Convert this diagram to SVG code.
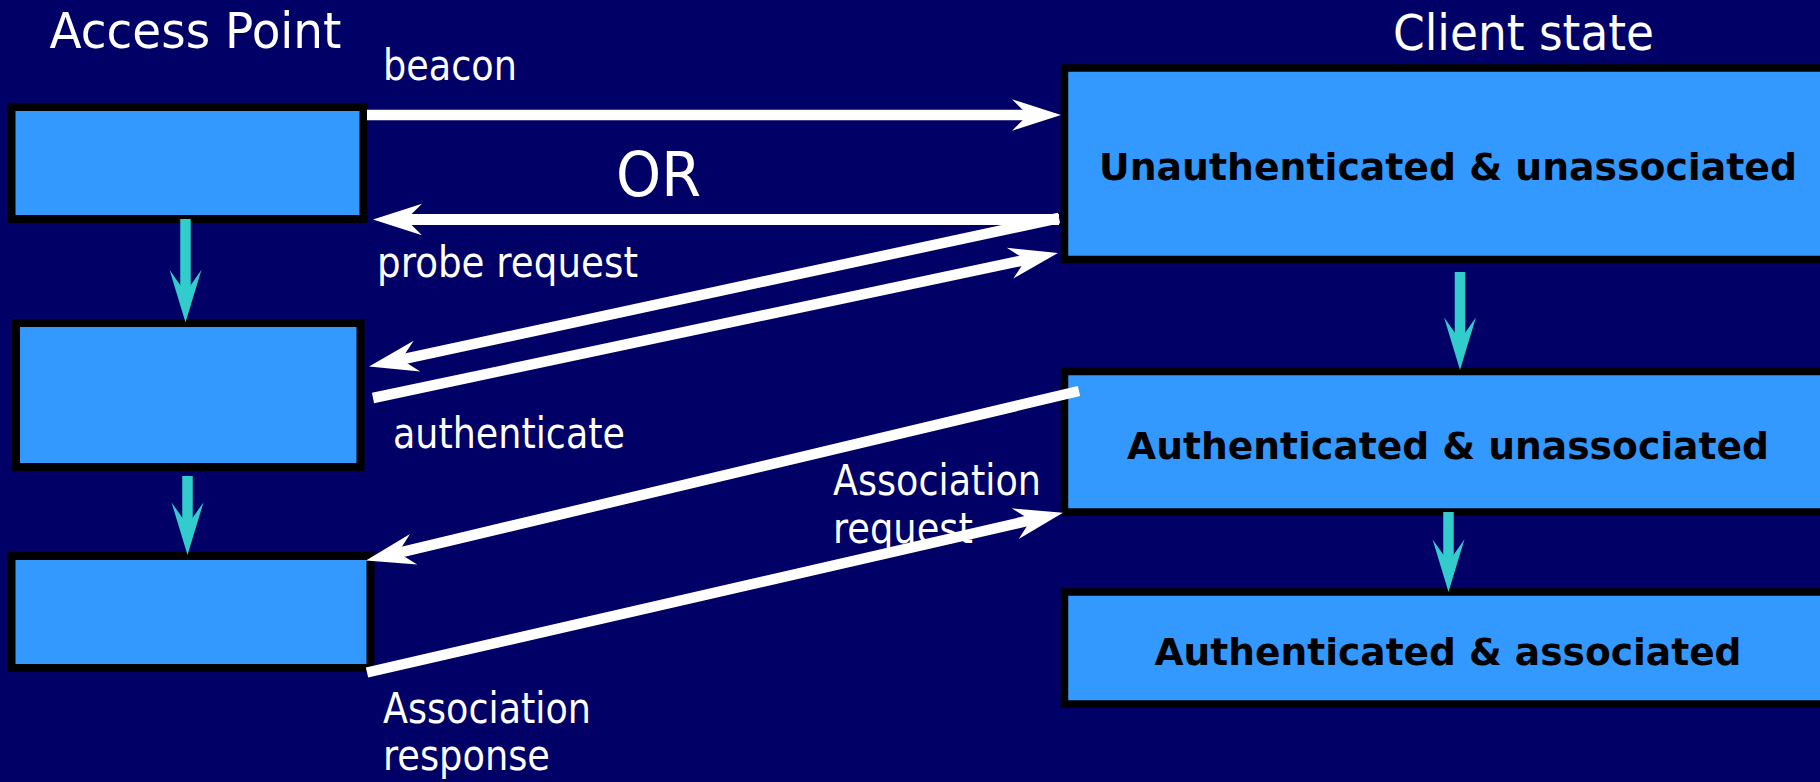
<svg xmlns="http://www.w3.org/2000/svg" width="1820" height="782" viewBox="0 0 1820 782">
  <style>
    .box { fill: #3399FF; stroke: #000000; stroke-width: 8; }
    .state { fill: #3399FF; stroke: #000000; stroke-width: 7.5; }
    .head { font-family: "DejaVu Sans", "Liberation Sans", sans-serif; font-size: 50px; fill: #FFFFFF; }
    .lbl { font-family: "DejaVu Sans", "Liberation Sans", sans-serif; font-size: 43px; fill: #FFFFFF; }
    .big { font-size: 63px; }
    .st { font-family: "DejaVu Sans", "Liberation Sans", sans-serif; font-size: 38px; font-weight: bold; fill: #000000; text-anchor: middle; }
    .msg { fill: none; stroke: #FFFFFF; stroke-width: 10.5; stroke-linecap: butt; marker-end: url(#wh); }
    .step { fill: none; stroke: #33CCCC; stroke-width: 10.5; stroke-linecap: butt; marker-end: url(#cy); }
  </style>
  <defs>
    <marker id="wh" markerUnits="userSpaceOnUse" orient="auto" markerWidth="60" markerHeight="40" refX="20" refY="0" overflow="visible">
      <path d="M0,-15.7 L49,0 L0,15.7 L16,0 Z" fill="#FFFFFF"/>
    </marker>
    <marker id="cy" markerUnits="userSpaceOnUse" orient="auto" markerWidth="60" markerHeight="40" refX="26.7" refY="0" overflow="visible">
      <path d="M0,-16 L52.7,0 L0,16 L22.7,0 Z" fill="#33CCCC"/>
    </marker>
  </defs>

  <rect x="0" y="0" width="1820" height="782" fill="#000066"/>

  <!-- column headings -->
  <text class="head" x="49.5" y="48" textLength="292" lengthAdjust="spacingAndGlyphs">Access Point</text>
  <text class="head" x="1393" y="50" textLength="261" lengthAdjust="spacingAndGlyphs">Client state</text>

  <!-- access point steps -->
  <g id="ap-step-1"><rect class="box" x="11.5" y="107" width="352" height="112"/></g>
  <g id="ap-step-2"><rect class="box" x="16" y="323" width="344.5" height="144"/></g>
  <g id="ap-step-3"><rect class="box" x="11.5" y="556" width="359" height="112"/></g>

  <!-- client states (run off the right edge) -->
  <g id="state-unauth-unassoc">
    <rect class="state" x="1064.5" y="68" width="768" height="191.5"/>
    <text class="st" x="1448" y="180" textLength="698" lengthAdjust="spacingAndGlyphs">Unauthenticated &amp; unassociated</text>
  </g>
  <g id="state-auth-unassoc">
    <rect class="state" x="1064.5" y="371.5" width="768" height="140.5"/>
    <text class="st" x="1448" y="459" textLength="642" lengthAdjust="spacingAndGlyphs">Authenticated &amp; unassociated</text>
  </g>
  <g id="state-auth-assoc">
    <rect class="state" x="1064.5" y="592" width="768" height="112"/>
    <text class="st" x="1448" y="665" textLength="587" lengthAdjust="spacingAndGlyphs">Authenticated &amp; associated</text>
  </g>

  <!-- message labels -->
  <g id="labels">
    <text class="lbl" x="383" y="80" textLength="134" lengthAdjust="spacingAndGlyphs">beacon</text>
    <text class="lbl big" x="616" y="196" textLength="85" lengthAdjust="spacingAndGlyphs">OR</text>
    <text class="lbl" x="377" y="277" textLength="261" lengthAdjust="spacingAndGlyphs">probe request</text>
    <text class="lbl" x="393" y="448" textLength="232" lengthAdjust="spacingAndGlyphs">authenticate</text>
    <text class="lbl" x="833" y="495" textLength="208" lengthAdjust="spacingAndGlyphs">Association</text>
    <text class="lbl" x="833" y="543" textLength="140" lengthAdjust="spacingAndGlyphs">request</text>
    <text class="lbl" x="383" y="723" textLength="208" lengthAdjust="spacingAndGlyphs">Association</text>
    <text class="lbl" x="383" y="770" textLength="167" lengthAdjust="spacingAndGlyphs">response</text>
  </g>

  <!-- connectors -->
  <g id="connectors">
    <line class="msg" x1="367" y1="115" x2="1032" y2="115"/>
    <line class="msg" x1="1059" y1="219.5" x2="402" y2="219.5" style="stroke-width:11"/>
    <line class="msg" x1="1059" y1="218" x2="397.4" y2="360.4"/>
    <line class="msg" x1="373" y1="398" x2="1029.6" y2="259"/>
    <line class="msg" x1="1079" y1="391" x2="394.2" y2="553.8"/>
    <line class="msg" x1="367" y1="672.5" x2="1034.7" y2="519.2"/>

    <line class="step" x1="185.5" y1="219" x2="185.5" y2="296.5"/>
    <line class="step" x1="187.5" y1="476" x2="187.5" y2="529"/>
    <line class="step" x1="1460" y1="272" x2="1460" y2="344"/>
    <line class="step" x1="1448.5" y1="512" x2="1448.5" y2="566"/>
  </g>
</svg>
